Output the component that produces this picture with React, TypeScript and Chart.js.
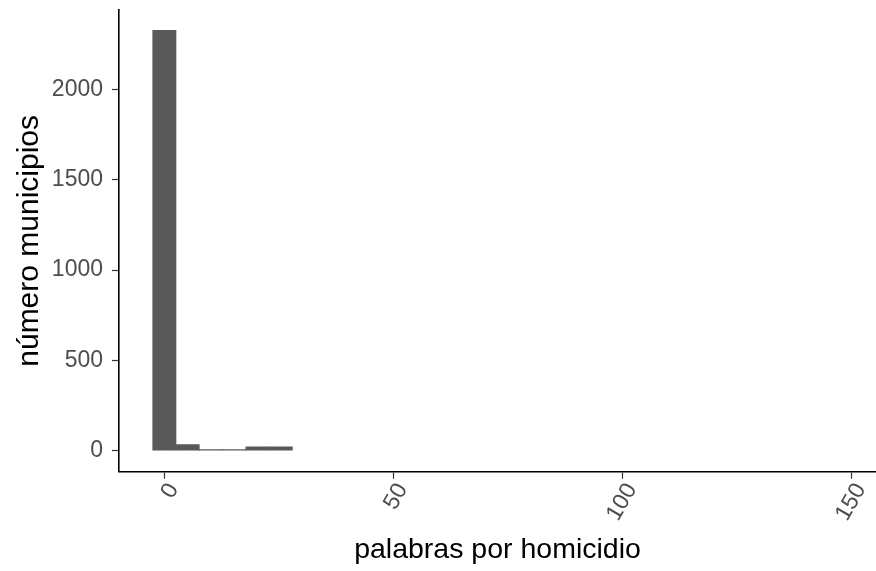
import React, { useEffect, useRef } from "react";
import { Chart, registerables } from "chart.js";

Chart.register(...registerables);

// Histogram bins (centres, in "palabras por homicidio") and counts (número municipios)
const binCenters = [
  0, 5.08, 10.16, 15.24, 20.32, 25.4, 30.48, 35.56, 40.64, 45.72,
  50.8, 55.88, 60.96, 66.04, 71.12, 76.2, 81.28, 86.36, 91.44, 96.52,
  101.6, 106.68, 111.76, 116.84, 121.92, 127, 132.08, 137.16, 142.24, 147.32,
];
const binCounts = [
  2327, 34, 6, 6, 21, 21, 0, 0, 0, 0,
  0, 0, 0, 0, 0, 0, 0, 0, 0, 0,
  0, 0, 0, 0, 0, 0, 0, 0, 0, 0,
];
const xTickValues = [0, 50, 100, 150];
const yTickValues = [0, 500, 1000, 1500, 2000];

const FONT = "'Liberation Sans', Arial, Helvetica, sans-serif";

export default function App() {
  const canvasRef = useRef<HTMLCanvasElement | null>(null);

  useEffect(() => {
    if (!canvasRef.current) return;
    const chart = new Chart(canvasRef.current, {
      type: "bar",
      data: {
        datasets: [
          {
            data: binCenters.map((x, i) => ({ x, y: binCounts[i] === 0 ? null : binCounts[i] })),
            backgroundColor: "#595959",
            borderWidth: 0,
            barPercentage: 1,
            categoryPercentage: 1,
          },
        ],
      },
      options: {
        animation: false,
        responsive: false,
        layout: { padding: { top: 10, right: 0, bottom: 0, left: 0 } },
        plugins: {
          legend: { display: false },
          tooltip: { enabled: false },
        },
        scales: {
          x: {
            type: "linear",
            min: -9.9,
            max: 155.3,
            offset: false,
            afterBuildTicks: (scale: any) => {
              scale.ticks = xTickValues.map((v) => ({ value: v }));
            },
            afterFit: (scale: any) => {
              scale.height = 99.3;
              scale.paddingLeft = 0;
              scale.paddingRight = 0;
            },
            ticks: {
              autoSkip: false,
              minRotation: 60,
              maxRotation: 60,
              padding: 0,
              labelOffset: 9,
              color: "#4d4d4d",
              font: { family: FONT, size: 23 },
              callback: (v: any) => String(v),
            },
            grid: {
              display: true,
              offset: false,
              drawOnChartArea: false,
              drawTicks: true,
              tickLength: 7,
              tickWidth: 1.2,
              tickColor: "#333333",
            },
            border: { display: true, color: "#000000", width: 1.6 },
            title: {
              display: true,
              text: "palabras por homicidio",
              color: "#000000",
              font: { family: FONT, size: 28.5 },
              padding: { top: 0, bottom: 4 },
            },
          },
          y: {
            type: "linear",
            min: -116,
            max: 2439,
            afterBuildTicks: (scale: any) => {
              scale.ticks = yTickValues.map((v) => ({ value: v }));
            },
            afterFit: (scale: any) => {
              scale.width = 119;
              scale.paddingTop = 0;
              scale.paddingBottom = 0;
            },
            ticks: {
              padding: 9,
              color: "#4d4d4d",
              font: { family: FONT, size: 23 },
              callback: (v: any) => String(v),
            },
            grid: {
              display: true,
              drawOnChartArea: false,
              drawTicks: true,
              tickLength: 7,
              tickWidth: 1.2,
              tickColor: "#333333",
            },
            border: { display: true, color: "#000000", width: 1.6 },
            title: {
              display: true,
              text: "número municipios",
              color: "#000000",
              font: { family: FONT, size: 30 },
              padding: { top: 12, bottom: 0 },
            },
          },
        },
      },
    });
    return () => chart.destroy();
  }, []);

  return (
    <div style={{ position: "absolute", left: 0, top: 0, width: 876, height: 571, background: "#ffffff" }}>
      <canvas ref={canvasRef} width={876} height={571} style={{ display: "block" }} />
    </div>
  );
}
